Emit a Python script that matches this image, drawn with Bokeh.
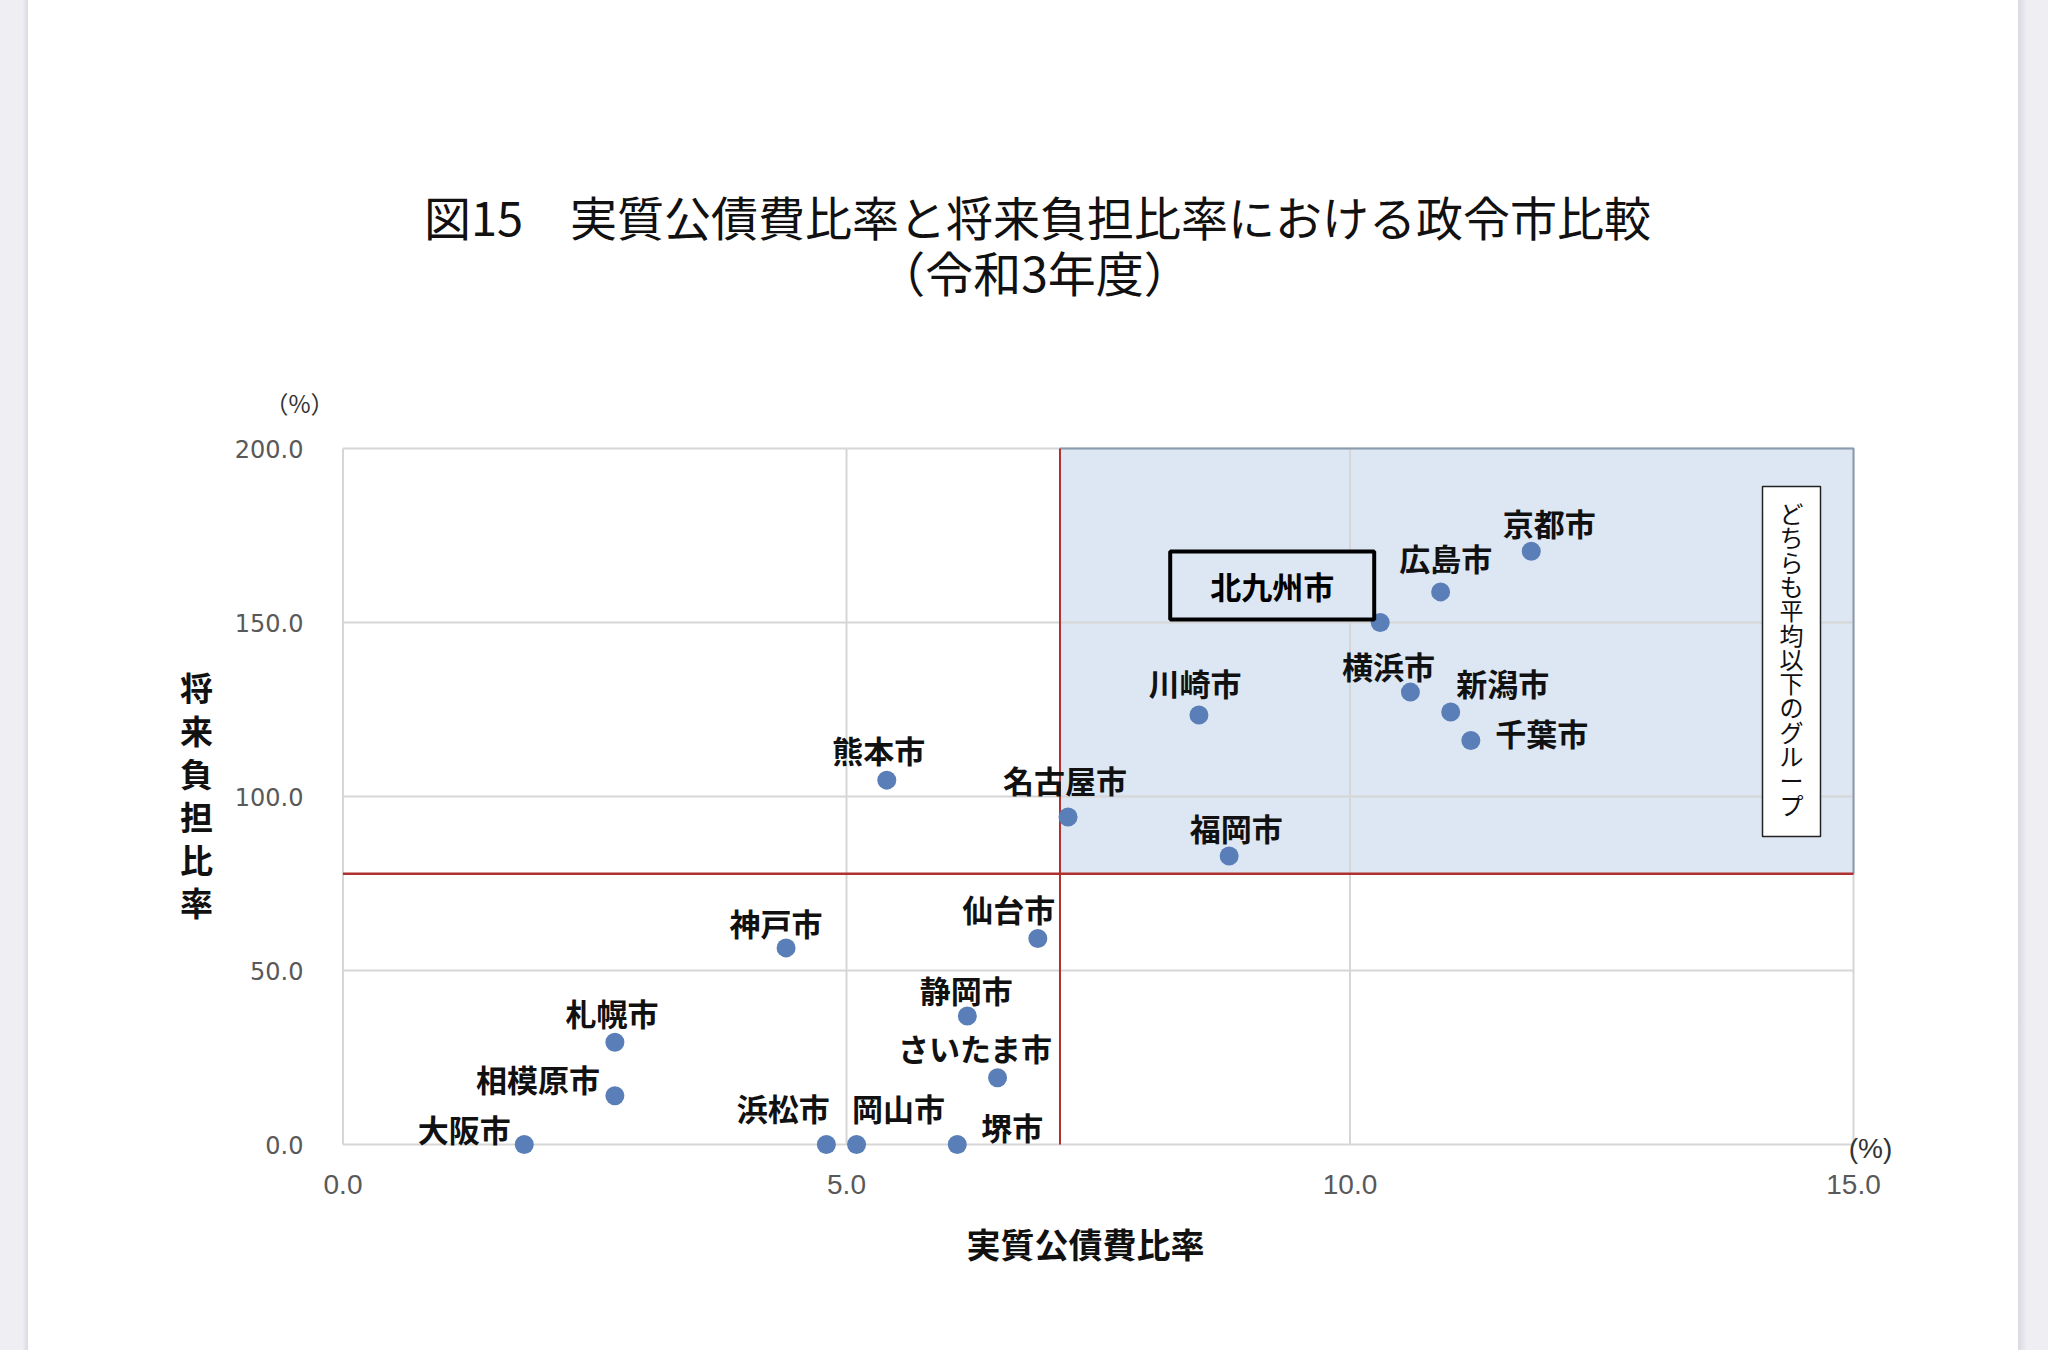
from bokeh.plotting import figure
from bokeh.models import ColumnDataSource, FixedTicker, NumeralTickFormatter, Range1d, Div
from bokeh.layouts import row, column
from bokeh.core.properties import value
from bokeh.embed import file_html
from bokeh.resources import INLINE

# ---------------- data ----------------
cities = ["京都市", "広島市", "北九州市", "横浜市", "新潟市", "千葉市", "川崎市",
          "名古屋市", "福岡市", "熊本市", "仙台市", "神戸市", "静岡市", "札幌市",
          "さいたま市", "相模原市", "大阪市", "浜松市", "岡山市", "堺市"]
debt_service_ratio = [11.8, 10.9, 10.3, 10.6, 11.0, 11.2, 8.5,
                      7.2, 8.8, 5.4, 6.9, 4.4, 6.2, 2.7,
                      6.5, 2.7, 1.8, 4.8, 5.1, 6.1]
future_burden_ratio = [170.5, 158.8, 150.0, 130.0, 124.3, 116.1, 123.4,
                       94.1, 82.9, 104.7, 59.2, 56.5, 36.9, 29.4,
                       19.2, 14.0, 0.0, 0.0, 0.0, 0.0]
avg_debt_service = 7.12
avg_future_burden = 77.8
x_ticks = [0, 5, 10, 15]
y_ticks = [0, 50, 100, 150, 200]

title1 = "図15　実質公債費比率と将来負担比率における政令市比較"
title2 = "（令和3年度）"
x_title = "実質公債費比率"
y_title = "将来負担比率"
unit_label = "（%）"
x_unit_label = "(%)"
group_note = "どちらも平均以下のグループ"
highlight = "北九州市"

# ---------------- layout (page pixels) ----------------
W, H = 2048, 1350
STRIP_L, STRIP_R = 28, 30
INNER_W = W - STRIP_L - STRIP_R
TOP_H = 427                    # title band bottom
BOT_Y = 1215                   # bottom band top
LEFT_W = 225 - STRIP_L         # band holding the vertical y title
PX0, PX15 = 342.5, 1853.0      # page x of x=0 and x=15
PY0, PY200 = 1144.0, 448.0     # page y of y=0 and y=200
FRAME_L, FRAME_R = 338.0, 1905.0
FRAME_T, FRAME_B = 444.0, 1166.0
xs_per = (PX15 - PX0) / 15.0
ys_per = (PY0 - PY200) / 200.0
FONT = "Noto Sans CJK JP"
MID_H = BOT_Y - TOP_H


def dx(px):
    return (px - PX0) / xs_per


def dy(py):
    return (PY0 - py) / ys_per


def text_fig(width, height, x0, y0, bt=0, bb=0):
    """A figure drawn in page-pixel coordinates (frame spans y0+bt .. y0+height-bb)."""
    f = figure(width=width, height=height, output_backend="svg", toolbar_location=None,
               x_range=Range1d(x0, x0 + width), y_range=Range1d(y0 + height - bb, y0 + bt),
               x_axis_location=None, y_axis_location=None, min_border=0,
               min_border_top=bt, min_border_bottom=bb, margin=0)
    f.outline_line_color = None
    f.xgrid.visible = False
    f.ygrid.visible = False
    f.background_fill_color = "white"
    f.border_fill_color = "white"
    return f


# ---- title band ----
top = text_fig(INNER_W, TOP_H, STRIP_L, 0)
top.text(x=[1037], y=[215], text=[title1], text_align="center", text_baseline="middle",
         text_font=value(FONT), text_font_size="47px", text_color="#111111")
top.text(x=[1034], y=[270], text=[title2], text_align="center", text_baseline="middle",
         text_font=value(FONT), text_font_size="48px", text_color="#111111")
top.text(x=[299], y=[402], text=[unit_label], text_align="center", text_baseline="middle",
         text_font=value(FONT), text_font_size="24px", text_color="#333333")

# ---- left band with vertical y title ----
left_band = text_fig(LEFT_W, MID_H, STRIP_L, TOP_H,
                     bt=int(FRAME_T - TOP_H), bb=int(BOT_Y - FRAME_B))
ych = list(y_title)
left_band.text(x=[196] * len(ych), y=[686 + i * 43 for i in range(len(ych))], text=ych,
               text_align="center", text_baseline="middle", text_font=value(FONT),
               text_font_size="33px", text_font_style="bold", text_color="#111111")

# ---- bottom band with x title ----
bottom = text_fig(INNER_W, H - BOT_Y, STRIP_L, BOT_Y)
bottom.text(x=[1085], y=[1243], text=[x_title], text_align="center", text_baseline="middle",
            text_font=value(FONT), text_font_size="34px", text_font_style="bold",
            text_color="#111111")

# ---- main plot ----
main_left = STRIP_L + LEFT_W
main_w = INNER_W - LEFT_W
x_range = Range1d(dx(FRAME_L), dx(FRAME_R))
y_range = Range1d(dy(FRAME_B), dy(FRAME_T))
p = figure(width=main_w, height=MID_H, x_range=x_range, y_range=y_range,
           output_backend="svg", toolbar_location=None, margin=0,
           min_border_left=int(FRAME_L - main_left),
           min_border_right=int(W - STRIP_R - FRAME_R),
           min_border_top=int(FRAME_T - TOP_H), min_border_bottom=int(BOT_Y - FRAME_B))
p.outline_line_color = None
p.background_fill_color = "white"
p.border_fill_color = "white"
p.xgrid.visible = False
p.ygrid.visible = False

for ax in (p.xaxis[0], p.yaxis[0]):
    ax.axis_line_color = None
    ax.major_tick_line_color = None
    ax.minor_tick_line_color = None
    ax.major_label_text_color = "#595959"
p.xaxis.ticker = FixedTicker(ticks=x_ticks)
p.yaxis.ticker = FixedTicker(ticks=y_ticks)
p.xaxis.formatter = NumeralTickFormatter(format="0.0")
p.yaxis.formatter = NumeralTickFormatter(format="0.0")
p.xaxis.major_label_text_font = "Liberation Sans"
p.xaxis.major_label_text_font_size = "28px"
p.xaxis.major_label_standoff = 2
p.yaxis.major_label_text_font = "DejaVu Sans"
p.yaxis.major_label_text_font_size = "24px"
p.yaxis.major_label_standoff = int(FRAME_L - 309)

# shaded quadrant (both ratios above average)
p.quad(left=avg_debt_service, right=15, bottom=avg_future_burden, top=200,
       fill_color="#DDE7F3", line_color=None)

# grid lines
p.segment(x0=x_ticks, y0=[0] * len(x_ticks), x1=x_ticks, y1=[200] * len(x_ticks),
          line_color="#D6D6D6", line_width=2)
p.segment(x0=[0] * len(y_ticks), y0=y_ticks, x1=[15] * len(y_ticks), y1=y_ticks,
          line_color="#D6D6D6", line_width=2)
p.line(x=[avg_debt_service, 15, 15], y=[200, 200, avg_future_burden],
       line_color="#8A9BB0", line_width=2)

# average lines
p.segment(x0=[0], y0=[avg_future_burden], x1=[15], y1=[avg_future_burden],
          line_color="#B03030", line_width=2.5)
p.segment(x0=[avg_debt_service], y0=[0], x1=[avg_debt_service], y1=[200],
          line_color="#B03030", line_width=2)

# points
src = ColumnDataSource(dict(x=debt_service_ratio, y=future_burden_ratio, name=cities))
p.scatter("x", "y", source=src, size=19, fill_color="#5A7EB8", line_color=None)

# point labels (offsets from the point, in screen px)
lab_dx = [18, 5, 0, -22, 52, 71, -4, -3, 7, -8, -29, -10, -1, -3, -22, -77, -60, -43, 42, 55]
lab_dy = [-29, -34, 0, -27, -29, -8, -33, -38, -29, -31, -30, -25, -27, -30, -30, -17, -16, -37, -37, -18]
lx, ly, lt = [], [], []
for c, xv, yv, ox, oy in zip(cities, debt_service_ratio, future_burden_ratio, lab_dx, lab_dy):
    if c == highlight:
        continue
    lx.append(xv + ox / xs_per)
    ly.append(yv - oy / ys_per)
    lt.append(c)
p.text(x=lx, y=ly, text=lt, text_align="center", text_baseline="middle",
       text_font=value(FONT), text_font_size="31px",
       text_color="#111111", text_font_style="bold")

# highlight box for 北九州市
hi = cities.index(highlight)
hx, hy = debt_service_ratio[hi], future_burden_ratio[hi]
bx0, bx1 = hx - 210 / xs_per, hx - 6 / xs_per
by0, by1 = hy + 3 / ys_per, hy + 71 / ys_per
p.quad(left=bx0, right=bx1, bottom=by0, top=by1, fill_color="#DDE7F3",
       line_color="black", line_width=4)
p.text(x=[(bx0 + bx1) / 2], y=[(by0 + by1) / 2], text=[highlight],
       text_align="center", text_baseline="middle",
       text_font=value(FONT), text_font_size="31px",
       text_font_style="bold", text_color="black")

# vertical note box
nx0, nx1 = dx(1762), dx(1820)
ny0, ny1 = dy(836), dy(486)
p.quad(left=nx0, right=nx1, bottom=ny0, top=ny1, fill_color="white",
       line_color="#222222", line_width=1.5)
chars = list(group_note)
p.text(x=[(nx0 + nx1) / 2] * len(chars), y=[dy(512 + i * 24.3) for i in range(len(chars))],
       text=chars, text_align="center", text_baseline="middle",
       text_font=value(FONT), text_font_size="24px", text_color="#111111")

# x unit label at the right end of the x axis
p.text(x=[dx(1870)], y=[dy(1148)], text=[x_unit_label], text_align="center",
       text_baseline="middle", text_font=value("Liberation Sans"),
       text_font_size="28px", text_color="#333333")

strip_l = Div(width=STRIP_L, height=H, margin=0,
              styles={"background": "linear-gradient(to right, #eeeef3 80%, #d9d9e1)"})
strip_r = Div(width=STRIP_R, height=H, margin=0,
              styles={"background": "linear-gradient(to right, #d9d9e1, #eeeef3 30%)"})
center = column(top, row(left_band, p, spacing=0, margin=0), bottom, spacing=0, margin=0)
layout = row(strip_l, center, strip_r, spacing=0, margin=0)

open("out.html", "w").write(file_html(layout, INLINE))
